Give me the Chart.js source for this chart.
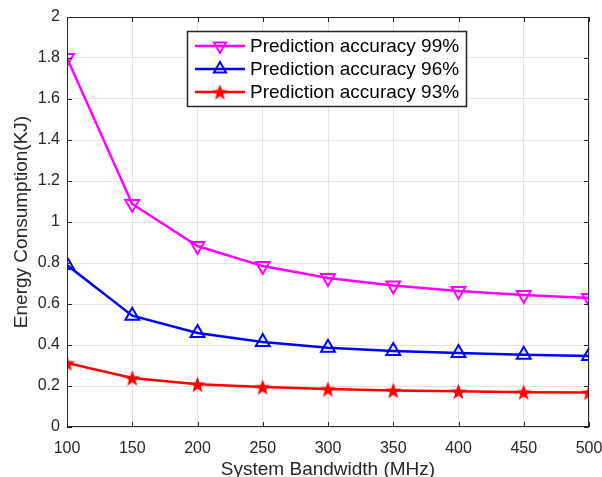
<!DOCTYPE html>
<html lang="en">
<head>
  <meta charset="UTF-8" />
  <title>Energy Consumption vs System Bandwidth</title>
  <script src="https://cdn.jsdelivr.net/npm/chart.js"></script>
  <style>
    html, body { margin: 0; padding: 0; background: #fff; }
    #wrap { width: 602px; height: 477px; }
  </style>
</head>
<body>
  <div id="wrap"><canvas id="energyChart" width="602" height="477"></canvas></div>
  <script>
    // data
    const bandwidth = [100, 150, 200, 250, 300, 350, 400, 450, 500];
    const acc99 = [1.80, 1.088, 0.883, 0.785, 0.727, 0.690, 0.663, 0.644, 0.629];
    const acc96 = [0.79, 0.543, 0.459, 0.415, 0.387, 0.371, 0.361, 0.352, 0.346];
    const acc93 = [0.312, 0.239, 0.208, 0.195, 0.185, 0.178, 0.174, 0.170, 0.168];
    const seriesLabels = ['Prediction accuracy 99%', 'Prediction accuracy 96%', 'Prediction accuracy 93%'];
    const yTicks = [0, 0.2, 0.4, 0.6, 0.8, 1, 1.2, 1.4, 1.6, 1.8, 2];

    const FONT = "'Liberation Sans', Arial, sans-serif";
    const AXIS_COLOR = '#262626';

    // filled five point star used as the red marker
    function makeStar(color, size) {
      const c = document.createElement('canvas');
      c.width = size; c.height = size;
      const g = c.getContext('2d');
      const cx = size / 2, cy = size / 2 + 0.8, R = size / 2, r = R * 0.42;
      g.beginPath();
      for (let i = 0; i < 10; i++) {
        const rad = i % 2 === 0 ? R : r;
        const a = -Math.PI / 2 + i * Math.PI / 5;
        g.lineTo(cx + rad * Math.cos(a), cy + rad * Math.sin(a));
      }
      g.closePath();
      g.fillStyle = color;
      g.fill();
      return c;
    }
    const redStar = makeStar('#ff0000', 17);

    function drawTriangle(ctx, x, y, r, down, color) {
      ctx.save();
      ctx.strokeStyle = color;
      ctx.lineWidth = 2;
      ctx.beginPath();
      const s = down ? -1 : 1;
      ctx.moveTo(x, y - s * r);
      ctx.lineTo(x + r * 0.866, y + s * r * 0.5);
      ctx.lineTo(x - r * 0.866, y + s * r * 0.5);
      ctx.closePath();
      ctx.stroke();
      ctx.restore();
    }

    // MATLAB style box, inward ticks and legend inside the axes
    const matlabBox = {
      id: 'matlabBox',
      afterDatasetsDraw(chart) {
        const { ctx, chartArea: a, scales } = chart;
        ctx.save();
        ctx.strokeStyle = AXIS_COLOR;
        ctx.lineWidth = 1;
        ctx.strokeRect(a.left + 0.5, a.top + 0.5, a.right - a.left - 1, a.bottom - a.top - 1);
        ctx.beginPath();
        const tl = 5;
        scales.x.ticks.forEach(t => {
          const px = Math.round(scales.x.getPixelForValue(t.value)) + 0.5;
          ctx.moveTo(px, a.bottom); ctx.lineTo(px, a.bottom - tl);
          ctx.moveTo(px, a.top); ctx.lineTo(px, a.top + tl);
        });
        scales.y.ticks.forEach(t => {
          const py = Math.round(scales.y.getPixelForValue(t.value)) + 0.5;
          ctx.moveTo(a.left, py); ctx.lineTo(a.left + tl, py);
          ctx.moveTo(a.right, py); ctx.lineTo(a.right - tl, py);
        });
        ctx.stroke();

        // legend
        const lx = 187, ly = 31, lw = 279, lh = 75;
        ctx.fillStyle = '#fff';
        ctx.fillRect(lx, ly, lw, lh);
        ctx.strokeStyle = '#262626';
        ctx.lineWidth = 1.5;
        ctx.strokeRect(lx + 0.5, ly + 0.5, lw, lh);
        ctx.font = '19px ' + FONT;
        ctx.textBaseline = 'middle';
        chart.data.datasets.forEach((ds, i) => {
          const y = ly + 15 + i * 23;
          ctx.strokeStyle = ds.borderColor;
          ctx.lineWidth = 2.5;
          ctx.beginPath();
          ctx.moveTo(lx + 8, y); ctx.lineTo(lx + 58, y);
          ctx.stroke();
          const mx = lx + 33;
          if (i === 0) drawTriangle(ctx, mx, y, 7, true, ds.borderColor);
          else if (i === 1) drawTriangle(ctx, mx, y, 7, false, ds.borderColor);
          else ctx.drawImage(redStar, mx - 8.5, y - 8.5);
          ctx.fillStyle = '#000';
          ctx.fillText(ds.label, lx + 63, y + 1);
        });
        ctx.restore();
      }
    };

    new Chart(document.getElementById('energyChart'), {
      type: 'line',
      data: {
        labels: bandwidth,
        datasets: [
          {
            label: seriesLabels[0], data: acc99,
            borderColor: '#ff00ff', backgroundColor: 'rgba(0,0,0,0)',
            borderWidth: 2.5, pointStyle: 'triangle', pointRotation: 180,
            pointRadius: 8, pointBorderWidth: 2, tension: 0
          },
          {
            label: seriesLabels[1], data: acc96,
            borderColor: '#0000ff', backgroundColor: 'rgba(0,0,0,0)',
            borderWidth: 2.5, pointStyle: 'triangle',
            pointRadius: 8, pointBorderWidth: 2, tension: 0
          },
          {
            label: seriesLabels[2], data: acc93,
            borderColor: '#ff0000', backgroundColor: '#ff0000',
            borderWidth: 2.5, pointStyle: redStar,
            pointRadius: 8, tension: 0
          }
        ]
      },
      options: {
        responsive: false,
        animation: false,
        events: [],
        layout: { padding: { top: 17, right: 0, left: 0, bottom: 0 } },
        plugins: { legend: { display: false }, tooltip: { enabled: false } },
        scales: {
          x: {
            type: 'linear', min: 100, max: 500,
            afterFit(s) { s.height = 50; s.paddingRight = 13; s.paddingLeft = 0; },
            grid: { color: '#e3e3e3', drawTicks: false },
            border: { display: false },
            ticks: { stepSize: 50, padding: 12, color: AXIS_COLOR, font: { family: FONT, size: 16 } },
            title: { display: true, text: 'System Bandwidth (MHz)', color: AXIS_COLOR,
                     font: { family: FONT, size: 19, lineHeight: 1.0 }, padding: { top: 0, bottom: -2 } }
          },
          y: {
            min: 0, max: 2,
            afterFit(s) { s.width = 67; },
            afterBuildTicks(s) { s.ticks = yTicks.map(v => ({ value: v })); },
            grid: { color: '#e3e3e3', drawTicks: false },
            border: { display: false },
            ticks: { padding: 7, color: AXIS_COLOR, font: { family: FONT, size: 16 },
                     callback: v => String(Math.round(v * 10) / 10) },
            title: { display: true, text: 'Energy Consumption(KJ)', color: AXIS_COLOR,
                     font: { family: FONT, size: 19, lineHeight: 1.0 }, padding: { top: 12, bottom: 4 } }
          }
        }
      },
      plugins: [matlabBox]
    });
  </script>
</body>
</html>
